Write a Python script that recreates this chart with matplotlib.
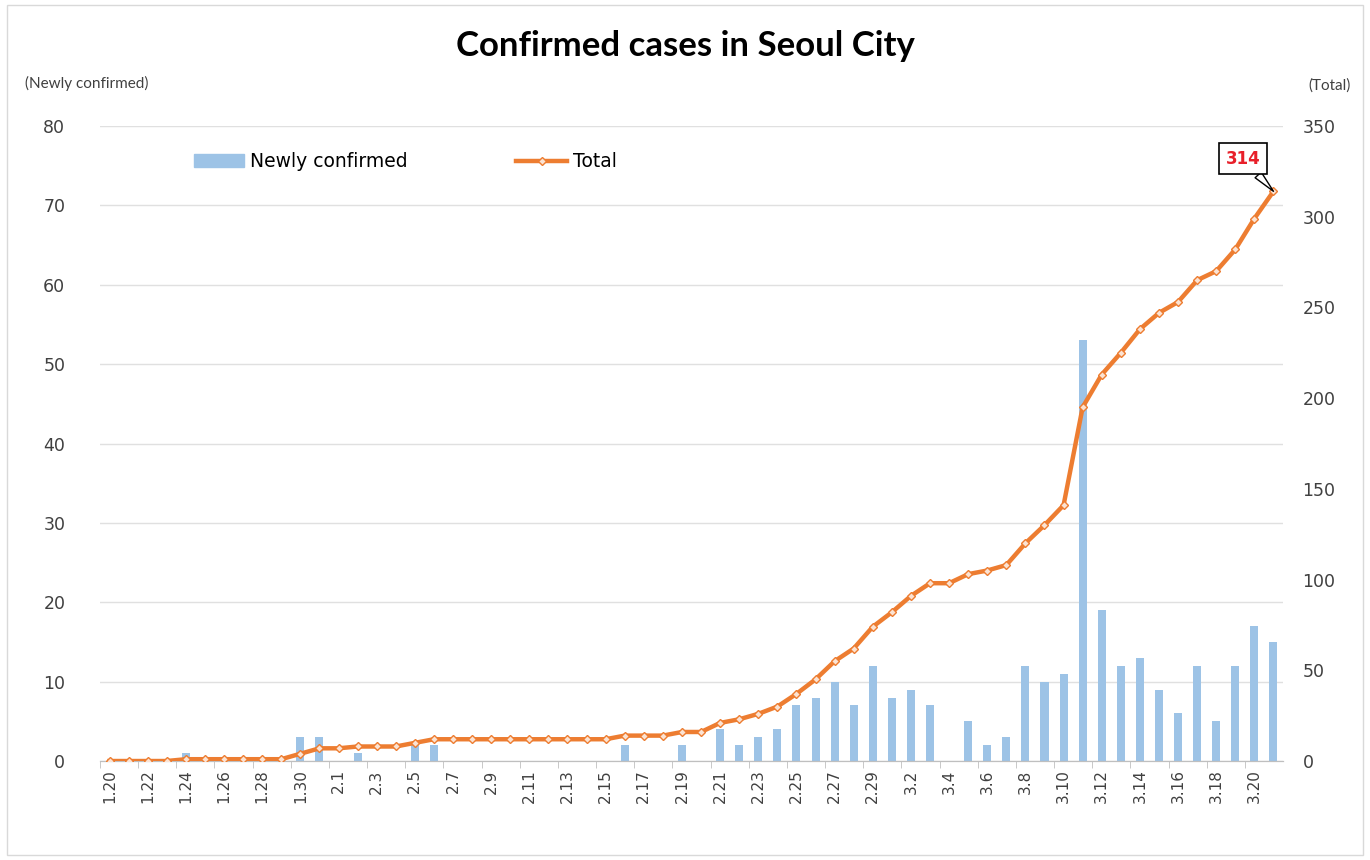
import numpy as np
import matplotlib
matplotlib.use("Agg")
import matplotlib.pyplot as plt
from matplotlib.patches import Rectangle
from matplotlib.lines import Line2D

# dates 1.20 .. 3.21
dates = ([f"1.{d}" for d in range(20, 32)] +
         [f"2.{d}" for d in range(1, 30)] +
         [f"3.{d}" for d in range(1, 22)])

new_cases = [0, 0, 0, 0, 1, 0, 0, 0, 0, 0, 3, 3,          # 1.20-1.31
             0, 1, 0, 0, 2, 2, 0, 0, 0, 0, 0, 0, 0, 0, 0,  # 2.1-2.15
             2, 0, 0, 2, 0, 4, 2, 3, 4, 7, 8, 10, 7, 12,   # 2.16-2.29
             8, 9, 7, 0, 5, 2, 3, 12, 10, 11, 53,          # 3.1-3.11
             19, 12, 13, 9, 6, 12, 5, 12, 17, 15]          # 3.12-3.21

total = [0, 0, 0, 0, 1, 1, 1, 1, 1, 1, 4, 7,
         7, 8, 8, 8, 10, 12, 12, 12, 12, 12, 12, 12, 12, 12, 12,
         14, 14, 14, 16, 16, 21, 23, 26, 30, 37, 45, 55, 62, 74,
         82, 91, 98, 98, 103, 105, 108, 120, 130, 141, 195,
         213, 225, 238, 247, 253, 265, 270, 282, 299, 314]

bar_color = "#9dc3e6"
line_color = "#ed7d31"
txt_color = "#404040"

fig = plt.figure(figsize=(13.7, 8.6), dpi=100)
ax = fig.add_axes([0.073, 0.1151, 0.8635, 0.7384])
ax2 = ax.twinx()

x = np.arange(len(dates))
ax.bar(x, new_cases, width=0.42, color=bar_color, zorder=2)
ax2.plot(x, total, color=line_color, lw=3.2, marker="D", markersize=4.5,
         mfc="#fbe3d3", mec=line_color, mew=1, zorder=3)

ax.set_xlim(-0.5, len(dates) - 0.5)
ax.set_ylim(0, 80)
ax2.set_ylim(0, 350)
ax.set_yticks(range(0, 81, 10))
ax2.set_yticks(range(0, 351, 50))
ax.grid(axis="y", color="#e0e0e0", lw=1, zorder=0)
ax.set_axisbelow(True)

# labels at every other day, tick marks between categories
ax.set_xticks(x[::2])
ax.set_xticklabels(dates[::2], rotation=90, fontsize=11, color=txt_color)
ax.set_xticks(x[::2] - 0.5, minor=True)
ax.tick_params(axis="x", which="major", length=0, pad=6)
ax.tick_params(axis="x", which="minor", length=5, color="#bfbfbf")
ax.tick_params(axis="y", length=0, labelsize=12.5, labelcolor=txt_color, pad=25)
ax2.tick_params(axis="y", length=0, labelsize=12.5, labelcolor=txt_color, pad=14)

for a in (ax, ax2):
    for s in ("top", "left", "right"):
        a.spines[s].set_visible(False)
    a.spines["bottom"].set_color("#bfbfbf")

ax.set_zorder(ax2.get_zorder() - 1)
ax.patch.set_visible(False)
ax2.patch.set_visible(False)

fig.text(0.5, 0.946, "Confirmed cases in Seoul City", ha="center", va="center",
         fontsize=25, fontweight="bold", color="black", family="Lato")
fig.text(0.018, 0.903, "(Newly confirmed)", fontsize=11, color=txt_color,
         va="center", family="Lato")
fig.text(0.986, 0.901, "(Total)", fontsize=11, color=txt_color, va="center",
         ha="right", family="Lato")

handles = [Rectangle((0, 0), 1, 1, color=bar_color),
           Line2D([], [], color=line_color, lw=3.2, marker="D", markersize=4.5,
                  mfc="#fbe3d3", mec=line_color)]
ax.legend(handles, ["Newly confirmed", "Total"], loc="upper left",
          bbox_to_anchor=(0.065, 0.985), ncol=2, frameon=False, fontsize=13.5,
          handlelength=2.7, handletextpad=0.3, columnspacing=5.8,
          labelcolor="black")

ax2.annotate(str(total[-1]), xy=(x[-1], total[-1]), xytext=(x[-1] - 1.6, 332),
             ha="center", va="center", fontsize=12, fontweight="bold",
             color="#e8202a",
             bbox=dict(boxstyle="square,pad=0.4", fc="white", ec="black", lw=1.2),
             arrowprops=dict(arrowstyle="wedge,tail_width=0.5", fc="white",
                             ec="black", lw=1.0, shrinkA=0, shrinkB=0))

fig.patches.append(Rectangle((0.005, 0.006), 0.99, 0.988, transform=fig.transFigure,
                             fill=False, ec="#d9d9d9", lw=1))

fig.savefig("out.png", dpi=100)
